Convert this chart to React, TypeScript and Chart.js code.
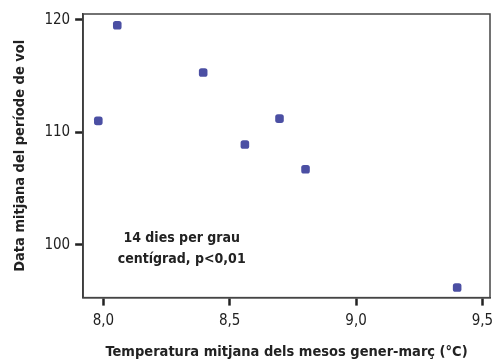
import React, { useEffect, useRef } from "react";
import { Chart, registerables } from "chart.js";

Chart.register(...registerables);

const temperatures = [7.98, 8.055, 8.395, 8.56, 8.697, 8.8, 9.4];
const flightDates = [111.0, 119.5, 115.3, 108.9, 111.2, 106.7, 96.2];
const xTicks = [8.0, 8.5, 9.0, 9.5];
const yTicks = [100, 110, 120];
const annotationLines = ["14 dies per grau", "centígrad, p<0,01"];
const xTitle = "Temperatura mitjana dels mesos gener-març (°C)";
const yTitle = "Data mitjana del període de vol";

const FONT = "'DejaVu Sans Condensed', 'DejaVu Sans', sans-serif";
const AXIS = "#333";

export default function App() {
  const ref = useRef<HTMLCanvasElement | null>(null);
  useEffect(() => {
    if (!ref.current) return;
    const framePlugin = {
      id: "frame",
      afterDraw(chart: any) {
        const { ctx, chartArea: a, scales } = chart;
        ctx.save();
        ctx.strokeStyle = "#444";
        ctx.lineWidth = 1.5;
        ctx.strokeRect(a.left, a.top, a.right - a.left, a.bottom - a.top);
        ctx.fillStyle = "#222";
        ctx.font = `bold 14px ${FONT}`;
        ctx.textAlign = "center";
        ctx.textBaseline = "middle";
        const cx = scales.x.getPixelForValue(8.31);
        const cy = scales.y.getPixelForValue(100.6);
        annotationLines.forEach((t, i) => ctx.fillText(t, cx, cy + i * 21));
        ctx.restore();
      },
    };
    const chart = new Chart(ref.current, {
      type: "scatter",
      data: {
        datasets: [
          {
            data: temperatures.map((x, i) => ({ x, y: flightDates[i] })),
            backgroundColor: "#4b4fa3",
            borderColor: "#4b4fa3",
            pointStyle: "rectRounded",
            pointRadius: 5,
            borderWidth: 0,
          },
        ],
      },
      options: {
        animation: false,
        responsive: true,
        maintainAspectRatio: false,
        layout: { padding: { top: 12, right: 0, left: 12, bottom: 1 } },
        plugins: { legend: { display: false }, tooltip: { enabled: false } },
        scales: {
          x: {
            type: "linear",
            min: 7.92,
            max: 9.53,
            afterBuildTicks: (s: any) => {
              s.ticks = xTicks.map((v) => ({ value: v }));
            },
            afterFit: (s: any) => {
              s.paddingRight = 2;
            },
            ticks: {
              color: "#222",
              font: { family: FONT, size: 15 },
              padding: 7,
              callback: (v: any) => Number(v).toFixed(1).replace(".", ","),
            },
            grid: {
              display: true,
              drawOnChartArea: false,
              drawTicks: true,
              tickLength: 8,
              tickWidth: 2.5,
              tickColor: "#222",
            },
            border: { display: true, color: AXIS, width: 1.5 },
            title: {
              display: true,
              text: xTitle,
              color: "#222",
              font: { family: FONT, size: 14.5, weight: "bold" },
              padding: { top: 6, bottom: 0 },
            },
          },
          y: {
            type: "linear",
            min: 95.3,
            max: 120.5,
            afterBuildTicks: (s: any) => {
              s.ticks = yTicks.map((v) => ({ value: v }));
            },
            ticks: {
              color: "#222",
              font: { family: FONT, size: 15 },
              padding: 5,
            },
            grid: {
              display: true,
              drawOnChartArea: false,
              drawTicks: true,
              tickLength: 8,
              tickWidth: 2.5,
              tickColor: "#222",
            },
            border: { display: true, color: AXIS, width: 1.5 },
            title: {
              display: true,
              text: yTitle,
              color: "#222",
              font: { family: FONT, size: 14.5, weight: "bold" },
              padding: { top: 0, bottom: 10 },
            },
          },
        },
      },
      plugins: [framePlugin],
    });
    return () => chart.destroy();
  }, []);
  return (
    <div style={{ position: "fixed", left: 0, top: 0, width: 495, height: 362, background: "#fff" }}>
      <canvas ref={ref} />
    </div>
  );
}
